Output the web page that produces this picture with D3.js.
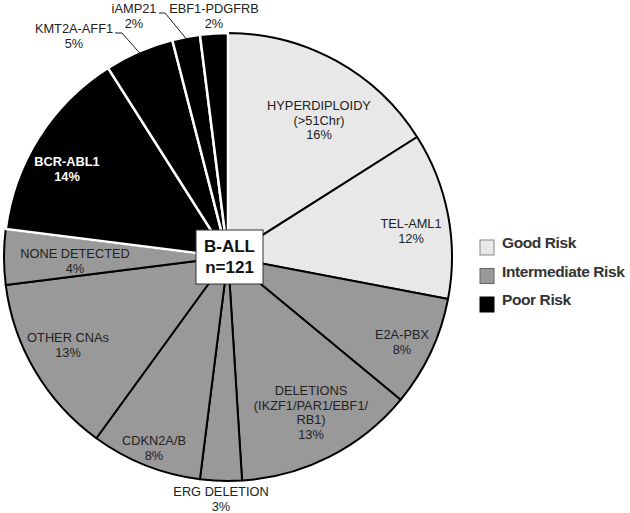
<!DOCTYPE html>
<html><head><meta charset="utf-8">
<script src="https://cdn.jsdelivr.net/npm/d3@7"></script>
<style>body{margin:0;background:#fff}svg{display:block}</style>
</head><body>
<svg id="c" width="630" height="513"></svg>
<script>
// Data
const categories = ["HYPERDIPLOIDY", "TEL-AML1", "E2A-PBX", "DELETIONS", "ERG DELETION", "CDKN2A/B",
  "OTHER CNAs", "NONE DETECTED", "BCR-ABL1", "KMT2A-AFF1", "iAMP21", "EBF1-PDGFRB"];
const percents = [16, 12, 8, 13, 3, 8, 13, 4, 14, 5, 2, 2];
const risks = ["Good", "Good", "Intermediate", "Intermediate", "Intermediate", "Intermediate",
  "Intermediate", "Intermediate", "Poor", "Poor", "Poor", "Poor"];
const labelLines = [
  ["HYPERDIPLOIDY", "(>51Chr)", "16%"],
  ["TEL-AML1", "12%"],
  ["E2A-PBX", "8%"],
  ["DELETIONS", "(IKZF1/PAR1/EBF1/", "RB1)", "13%"],
  ["ERG DELETION", "3%"],
  ["CDKN2A/B", "8%"],
  ["OTHER CNAs", "13%"],
  ["NONE DETECTED", "4%"],
  ["BCR-ABL1", "14%"],
  ["KMT2A-AFF1", "5%"],
  ["iAMP21", "2%"],
  ["EBF1-PDGFRB", "2%"]
];
const legendLabels = ["Good Risk", "Intermediate Risk", "Poor Risk"];
const centerTitle = ["B-ALL", "n=121"];

// Layout / style (kept separate from data)
const cx = 228, cy = 257, R = 224;
const fillColor = d3.scaleOrdinal().domain(["Good", "Intermediate", "Poor"]).range(["#e8e8e8", "#999999", "#000000"]);
const labelFirstBaseline = [
  [319, 110], [411, 228], [402, 339], [311, 395], [221, 496], [154, 445],
  [68, 342], [75, 258], [67, 166], [74, 33], [134, 13], [214, 13]
];
const lineGap = 14.5;

const svg = d3.select("#c");
const g = svg.append("g").attr("transform", `translate(${cx},${cy})`);

const pie = d3.pie().sort(null).value(d => d).startAngle(0).endAngle(2 * Math.PI);
const arcs = pie(percents).map((a, i) => Object.assign(a, { i }));
const arc = d3.arc().innerRadius(0).outerRadius(R);

// non-poor slices first, black stroke
g.selectAll("path.s").data(arcs.filter(d => risks[d.i] !== "Poor")).join("path")
  .attr("class", "s").attr("d", arc)
  .attr("fill", d => fillColor(risks[d.i]))
  .attr("stroke", "#000").attr("stroke-width", 2).attr("stroke-linejoin", "round");
// poor slices with white separators
g.selectAll("path.p").data(arcs.filter(d => risks[d.i] === "Poor")).join("path")
  .attr("class", "p").attr("d", arc)
  .attr("fill", d => fillColor(risks[d.i]))
  .attr("stroke", "#fff").attr("stroke-width", 2.5).attr("stroke-linejoin", "round");

// Leader lines
const leaders = [
  { i: 9, pts: [[115, 33], [122, 33]] },
  { i: 10, pts: [[159, 13], [165, 13]] }
];
leaders.forEach(l => {
  const a = arcs[l.i];
  const mid = (a.startAngle + a.endAngle) / 2;
  const end = [cx + (R - 2) * Math.sin(mid), cy - (R - 2) * Math.cos(mid)];
  svg.append("polyline")
    .attr("points", [...l.pts, end].map(p => p.join(",")).join(" "))
    .attr("fill", "none").attr("stroke", "#222").attr("stroke-width", 1);
});

// Slice labels
labelLines.forEach((lines, i) => {
  const [x, y] = labelFirstBaseline[i];
  const inv = i === 8;
  const t = svg.append("text")
    .attr("text-anchor", "middle")
    .attr("font-family", "Liberation Sans, Arial, sans-serif")
    .attr("font-size", 12.8)
    .attr("font-weight", inv ? "bold" : "normal")
    .attr("fill", inv ? "#fff" : "#222");
  lines.forEach((s, k) => t.append("tspan").attr("x", x).attr("y", y + k * lineGap).text(s));
});

// Center box
svg.append("rect").attr("x", 196).attr("y", 230).attr("width", 67).attr("height", 54)
  .attr("fill", "#fff").attr("stroke", "#333").attr("stroke-width", 1);
const ct = svg.append("text").attr("text-anchor", "middle")
  .attr("font-family", "Liberation Sans, Arial, sans-serif")
  .attr("font-size", 17).attr("font-weight", "bold").attr("fill", "#111");
centerTitle.forEach((s, k) => ct.append("tspan").attr("x", 229.5).attr("y", 252 + k * 21).text(s));

// Legend
const legendRisk = ["Good", "Intermediate", "Poor"];
const legendStroke = ["#888", "#666", "#000"];
const ly = d3.scalePoint().domain(legendRisk).range([240, 297]);
const lg = svg.append("g");
legendRisk.forEach((r, k) => {
  lg.append("rect").attr("x", 480).attr("y", ly(r)).attr("width", 14).attr("height", 15)
    .attr("fill", fillColor(r)).attr("stroke", legendStroke[k]).attr("stroke-width", 1);
  lg.append("text").attr("x", 502).attr("y", ly(r) + 8)
    .attr("font-family", "Liberation Sans, Arial, sans-serif")
    .attr("font-size", 15.5).attr("font-weight", "bold").attr("fill", "#333")
    .attr("letter-spacing", -0.4)
    .text(legendLabels[k]);
});
</script>
</body></html>
